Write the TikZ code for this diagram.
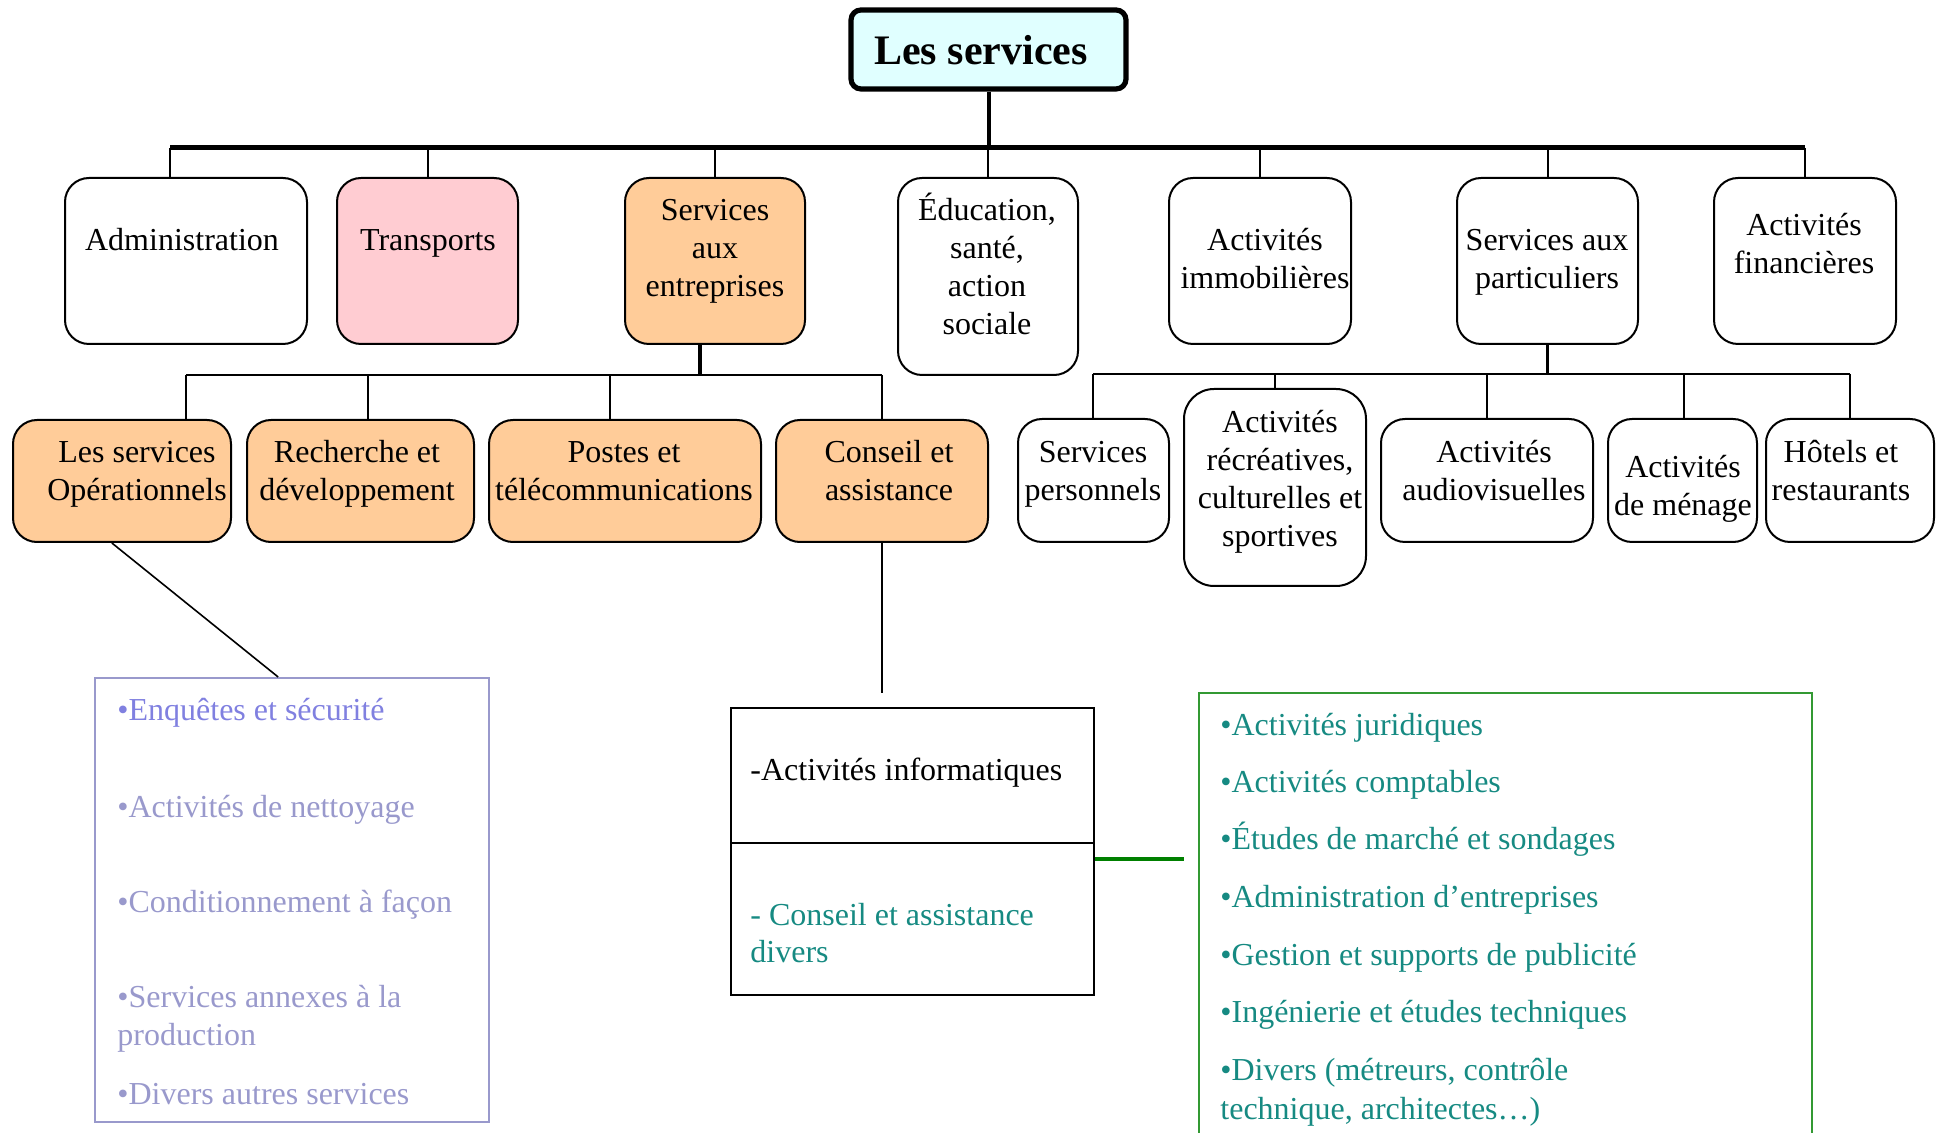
\documentclass[tikz,border=0pt]{standalone}
\usepackage{fontspec}
\setmainfont{Liberation Serif}
\usetikzlibrary{fit,calc}
\definecolor{rootfill}{HTML}{E0FFFF}
\definecolor{pinkfill}{HTML}{FFCCD2}
\definecolor{orangefill}{HTML}{FFCC99}
\definecolor{lav}{HTML}{9999CC}
\definecolor{lavbright}{HTML}{8080E0}
\definecolor{tealtxt}{HTML}{168A82}
\definecolor{grline}{HTML}{008000}
\definecolor{grbox}{HTML}{339933}
\newcommand\txtlines[4]{\foreach \tl [count=\ti from 0] in {#4}{\node[txt] (#1\ti) at (#2,{#3+38*\ti}) {\tl};}}
\begin{document}
\begin{tikzpicture}[x=0.5pt,y=-0.5pt,
  box/.style={draw, line width=1pt, rounded corners=12pt, inner sep=0pt},
  rootbox/.style={draw, line width=2.6pt, rounded corners=5pt, fill=rootfill, inner sep=0pt},
  plainbox/.style={draw, line width=1pt, inner sep=0pt},
  txt/.style={inner sep=0pt, anchor=base, yshift=-1.25pt, font=\fontsize{16pt}{19pt}\selectfont},
  ltxt/.style={txt, anchor=base west},
  conn/.style={line width=1pt},
  thickconn/.style={line width=1.6pt},
]
\useasboundingbox (0,0) rectangle (1939,1133);

% root
\node[rootbox, fit={(851,10) (1126,89)}] (root) {};
\node[inner sep=0pt, anchor=base, yshift=-1.25pt, font=\fontsize{21pt}{25pt}\selectfont\bfseries] (roottxt) at (981,62) {Les services};

% level 1 boxes
\node[box, fit={(65,178) (307,344)}] (adm) {};
\node[box, fill=pinkfill, fit={(337,178) (518,344)}] (tra) {};
\node[box, fill=orangefill, fit={(625,178) (805,344)}] (sae) {};
\node[box, fit={(898,178) (1078,375)}] (edu) {};
\node[box, fit={(1169,178) (1351,344)}] (imm) {};
\node[box, fit={(1457,178) (1638,344)}] (par) {};
\node[box, fit={(1714,178) (1896,344)}] (fin) {};

\txtlines{admt}{182}{248}{Administration}
\txtlines{trat}{428}{248}{Transports}
\txtlines{saet}{715}{218}{Services,aux,entreprises}
\txtlines{edut}{987}{218}{{Éducation,},{santé,},action,sociale}
\txtlines{immt}{1265}{248}{Activités,immobilières}
\txtlines{part}{1547}{248}{Services aux,particuliers}
\txtlines{fint}{1804}{233}{Activités,financières}

% main bar
\coordinate (barL) at (170,148);
\coordinate (barR) at (1805,148);
\draw[line width=2pt] (root.south) -- (root.south |- barL);
\draw[line width=2.5pt] (barL) -- (barR);
\draw[conn] (barL) -- (barL |- adm.north);
\draw[conn] (tra.north |- barL) -- (tra.north);
\draw[conn] (sae.north |- barL) -- (sae.north);
\draw[conn] (edu.north |- barL) -- (edu.north);
\draw[conn] (imm.north |- barL) -- (imm.north);
\draw[conn] (par.north |- barL) -- (par.north);
\draw[conn] (fin.north |- barL) -- (fin.north);

% sub boxes of services aux entreprises
\node[box, fill=orangefill, fit={(13,420) (231,542)}] (ops) {};
\node[box, fill=orangefill, fit={(247,420) (474,542)}] (rec) {};
\node[box, fill=orangefill, fit={(489,420) (761,542)}] (pos) {};
\node[box, fill=orangefill, fit={(776,420) (988,542)}] (con) {};
\txtlines{opst}{137}{460}{Les services,Opérationnels}
\txtlines{rect}{357}{460}{Recherche et,développement}
\txtlines{post}{624}{460}{Postes et,télécommunications}
\txtlines{cont}{889}{460}{Conseil et,assistance}

\coordinate (sD) at (700,375);
\coordinate (s1) at (186,375);
\coordinate (s2) at (368,375);
\coordinate (s3) at (610,375);
\coordinate (s4) at (882,375);
\draw[thickconn] (sD |- sae.south) -- (sD);
\draw[conn] (s1) -- (s4);
\draw[conn] (s1) -- (s1 |- ops.north);
\draw[conn] (s2) -- (s2 |- rec.north);
\draw[conn] (s3) -- (s3 |- pos.north);
\draw[conn] (s4) -- (s4 |- con.north);

% sub boxes of services aux particuliers
\node[box, fit={(1018,419) (1169,542)}] (per) {};
\node[box, rounded corners=15pt, fit={(1184,389) (1366,586)}] (rcr) {};
\node[box, fit={(1381,419) (1593,542)}] (aud) {};
\node[box, fit={(1608,419) (1757,542)}] (men) {};
\node[box, fit={(1766,419) (1934,542)}] (hot) {};
\txtlines{pert}{1093}{460}{Services,personnels}
\txtlines{rcrt}{1280}{430}{Activités,{récréatives,},culturelles et,sportives}
\txtlines{audt}{1494}{460}{Activités,audiovisuelles}
\txtlines{ment}{1683}{475}{Activités,de ménage}
\txtlines{hott}{1841}{460}{Hôtels et,restaurants}

\coordinate (p1) at (1093,374);
\coordinate (p2) at (1275,374);
\coordinate (p3) at (1487,374);
\coordinate (p4) at (1684,374);
\coordinate (p5) at (1850,374);
\draw[thickconn] (par.south) -- (par.south |- p1);
\draw[conn] (p1) -- (p5);
\draw[conn] (p1) -- (p1 |- per.north);
\draw[conn] (p2) -- (p2 |- rcr.north);
\draw[conn] (p3) -- (p3 |- aud.north);
\draw[conn] (p4) -- (p4 |- men.north);
\draw[conn] (p5) -- (p5 |- hot.north);

% left list
\node[draw=lav, line width=1pt, inner sep=0pt, fit={(95,678) (489,1122)}] (lbox) {};
\draw[line width=0.8pt] ($(ops.south west)!0.454!(ops.south east)$) -- ($(lbox.north west)!0.465!(lbox.north east)$);
\node[ltxt, text=lavbright] (l1) at (117,718) {•Enquêtes et sécurité};
\node[ltxt, text=lav] (l2) at (117,815) {•Activités de nettoyage};
\node[ltxt, text=lav] (l3) at (117,910) {•Conditionnement à façon};
\node[ltxt, text=lav] (l4) at (117,1005) {•Services annexes à la};
\node[ltxt, text=lav] (l4b) at (117,1043) {production};
\node[ltxt, text=lav] (l5) at (117,1102) {•Divers autres services};

% middle box
\coordinate (conEnd) at (882,693);
\draw[conn] (con.south) -- (conEnd);
\node[plainbox, fit={(731,708) (1094,995)}] (mid) {};
\draw[conn] (mid.west |- 0,843) -- (mid.east |- 0,843);
\node[ltxt] (m1) at (750,778) {-Activités informatiques};
\node[ltxt, text=tealtxt] (m2) at (750,923) {- Conseil et assistance};
\node[ltxt, text=tealtxt] (m2b) at (750,960) {divers};

% green list
\node[draw=grbox, line width=1pt, inner sep=0pt, fit={(1199,693) (1812,1180)}] (gbox) {};
\coordinate (gEnd) at (1184,859);
\draw[line width=2pt, grline] (mid.east |- gEnd) -- (gEnd);
\node[ltxt, text=tealtxt] (g1) at (1220,733) {•Activités juridiques};
\node[ltxt, text=tealtxt] (g2) at (1220,790) {•Activités comptables};
\node[ltxt, text=tealtxt] (g3) at (1220,847) {•Études de marché et sondages};
\node[ltxt, text=tealtxt] (g4) at (1220,905) {•Administration d’entreprises};
\node[ltxt, text=tealtxt] (g5) at (1220,963) {•Gestion et supports de publicité};
\node[ltxt, text=tealtxt] (g6) at (1220,1020) {•Ingénierie et études techniques};
\node[ltxt, text=tealtxt] (g7) at (1220,1078) {•Divers (métreurs, contrôle};
\node[ltxt, text=tealtxt] (g7b) at (1220,1117) {technique, architectes…)};
\end{tikzpicture}
\end{document}
